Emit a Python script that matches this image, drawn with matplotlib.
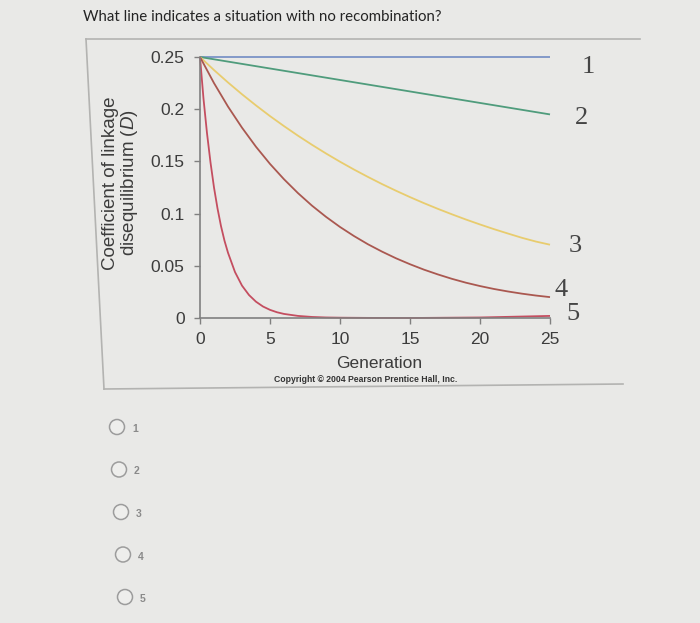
import matplotlib.pyplot as plt
from matplotlib.patches import Circle

W, H = 700, 623
BG = "#e9e9e7"
AXC = "#808080"
INK = "#3c3c3c"

plt.rcParams.update({
    "font.family": ["Liberation Sans", "DejaVu Sans"],
    "mathtext.fontset": "custom",
    "mathtext.it": "Liberation Sans:italic",
    "mathtext.rm": "Liberation Sans",
})

# values
gen = list(range(26))
line1 = [0.25] * 26
line2 = [0.2500, 0.2478, 0.2456, 0.2434, 0.2412, 0.2390, 0.2368, 0.2346, 0.2324,
         0.2302, 0.2280, 0.2258, 0.2236, 0.2214, 0.2192, 0.2170, 0.2148, 0.2126,
         0.2104, 0.2082, 0.2060, 0.2038, 0.2016, 0.1994, 0.1972, 0.1950]
line3 = [0.2500, 0.2375, 0.2256, 0.2143, 0.2036, 0.1934, 0.1838, 0.1746, 0.1659,
         0.1576, 0.1497, 0.1422, 0.1351, 0.1283, 0.1219, 0.1158, 0.1100, 0.1045,
         0.0993, 0.0943, 0.0896, 0.0851, 0.0809, 0.0768, 0.0732, 0.0702]
line4 = [0.2500, 0.2250, 0.2025, 0.1823, 0.1640, 0.1476, 0.1329, 0.1196, 0.1076,
         0.0969, 0.0872, 0.0785, 0.0706, 0.0636, 0.0572, 0.0515, 0.0463, 0.0417,
         0.0375, 0.0338, 0.0306, 0.0278, 0.0254, 0.0233, 0.0215, 0.0200]
gen5 = [0, 0.25, 0.5, 0.75, 1, 1.25, 1.5, 1.75, 2, 2.5, 3, 3.5, 4, 4.5, 5, 5.5,
        6, 7, 8, 9, 10, 12, 15, 20, 25]
line5 = [0.2500, 0.2100, 0.1770, 0.1490, 0.1250, 0.1050, 0.0880, 0.0740, 0.0625,
         0.0440, 0.0310, 0.0220, 0.0156, 0.0110, 0.0078, 0.0055, 0.0039, 0.0020,
         0.0010, 0.0005, 0.0003, 0.0001, 0.0000, 0.0005, 0.0020]

series = [("1", gen, line1, "#7b93c6"), ("2", gen, line2, "#4f9c7c"),
          ("3", gen, line3, "#e8cc6e"), ("4", gen, line4, "#aa5850"),
          ("5", gen5, line5, "#c44e60")]
# where each curve number sits (pixel coords of the screenshot)
label_pos = {"1": (588, 67), "2": (581, 118), "3": (575, 246),
             "4": (561, 290), "5": (573, 314)}

yticks = [0, 0.05, 0.1, 0.15, 0.2, 0.25]
ytick_labels = ["0", "0.05", "0.1", "0.15", "0.2", "0.25"]
xticks = [0, 5, 10, 15, 20, 25]

question = "What line indicates a situation with no recombination?"
choices = ["1", "2", "3", "4", "5"]

fig = plt.figure(figsize=(W / 100, H / 100), dpi=100, facecolor=BG)

# page overlay in pixel coordinates
pg = fig.add_axes([0, 0, 1, 1], zorder=-1)
pg.set_xlim(0, W)
pg.set_ylim(H, 0)
pg.axis("off")
pg.set_facecolor(BG)

pg.text(83, 17, question, fontsize=10.8, family=["Lato", "DejaVu Sans"],
        color="#242424", ha="left", va="center")

# figure frame
pg.plot([86, 640], [39, 39], color="#b3b3b1", lw=1.2)
pg.plot([86, 104], [39, 389], color="#b3b3b1", lw=1.2)
pg.plot([104, 623], [389, 384], color="#b3b3b1", lw=1.2)

pg.text(121, 183, "Coefficient of linkage\ndisequilibrium ($D$)", rotation=90,
        fontsize=13.5, color=INK, ha="center", va="center", linespacing=1.05)
pg.text(379, 364, "Generation", fontsize=12.5, color=INK, ha="center", va="center")
pg.text(366, 380, "Copyright \u00a9 2004 Pearson Prentice Hall, Inc.", fontsize=6.2,
        weight="bold", color="#333333", ha="center", va="center")

for name, (px, py) in label_pos.items():
    pg.text(px, py, name, fontsize=19, family=["Liberation Serif", "DejaVu Serif"],
            color="#454545", ha="center", va="center")

# answer choices
for i, c in enumerate(choices):
    cx, cy = 117 + 2 * i, 427 + 42.5 * i
    pg.add_patch(Circle((cx, cy), 7.5, facecolor="#eeeeec", edgecolor="#9c9c9c", lw=1.1))
    pg.text(cx + 18, cy + 2, c, fontsize=7.5, weight="bold", color="#8a8a8a",
            ha="center", va="center")

# chart
ax = fig.add_axes([200 / W, (H - 318) / H, 350 / W, 261 / H])
ax.set_facecolor("none")
for name, x, y, col in series:
    ax.plot(x, y, color=col, lw=1.3, clip_on=False, solid_capstyle="butt")
ax.set_xlim(0, 25)
ax.set_ylim(0, 0.25)
ax.set_xticks(xticks)
ax.set_yticks(yticks)
ax.set_yticklabels(ytick_labels)
for s in ("top", "right"):
    ax.spines[s].set_visible(False)
for s in ("left", "bottom"):
    ax.spines[s].set_color(AXC)
    ax.spines[s].set_linewidth(1.2)
ax.tick_params(axis="both", colors=AXC, labelcolor=INK, labelsize=12.5,
               length=4, width=1)
ax.tick_params(axis="y", pad=7)
ax.tick_params(axis="x", pad=6)

fig.savefig("out.png", dpi=100, facecolor=BG)
